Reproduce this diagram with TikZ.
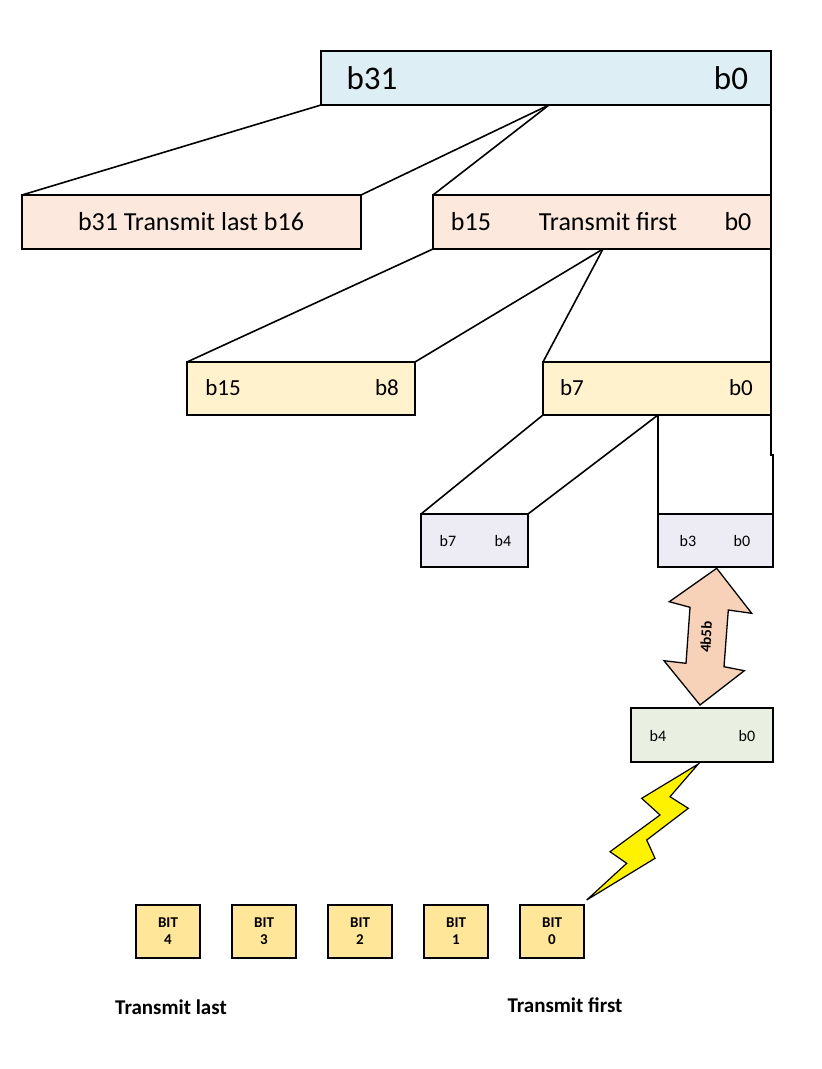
\documentclass[tikz,border=0pt]{standalone}
\usepackage{fontspec}
\setmainfont{Carlito}
\begin{document}
\begin{tikzpicture}[x=1pt,y=-1pt,line width=1.6pt,
 bx/.style={draw=black,line width=1.6pt},
 t/.style={inner sep=0pt,anchor=center}]
\useasboundingbox (0,0) rectangle (822,1069);
\definecolor{cTop}{HTML}{DDEEF4}
\definecolor{cPeach}{HTML}{FCE8DC}
\definecolor{cYel}{HTML}{FFF2CC}
\definecolor{cLav}{HTML}{EDEBF3}
\definecolor{cGrn}{HTML}{EAF0E1}
\definecolor{cBit}{HTML}{FFE699}
\definecolor{cArr}{HTML}{F8D2B8}
% boxes
\draw[bx,fill=cTop] (321,51) rectangle (771,105);
\node[t,font=\fontsize{33}{33}\selectfont] (t31) at (372,78) {b31};
\node[t,font=\fontsize{33}{33}\selectfont] (t0) at (731,78) {b0};
\draw[bx,fill=cPeach] (22,195) rectangle (361,249);
\node[t,font=\fontsize{26}{26}\selectfont] (a) at (191,222) {b31 Transmit last b16};
\draw[bx,fill=cPeach] (433,195) rectangle (771,249);
\node[t,font=\fontsize{26}{26}\selectfont] (b1) at (471,222) {b15};
\node[t,font=\fontsize{26}{26}\selectfont] (b2) at (608,222) {Transmit first};
\node[t,font=\fontsize{26}{26}\selectfont] (b3) at (738,222) {b0};
\draw[bx,fill=cYel] (187,362) rectangle (415,415);
\node[t,font=\fontsize{23}{23}\selectfont] (c1) at (223,388) {b15};
\node[t,font=\fontsize{23}{23}\selectfont] (c2) at (387,388) {b8};
\draw[bx,fill=cYel] (543,362) rectangle (771,415);
\node[t,font=\fontsize{23}{23}\selectfont] (d1) at (572,388) {b7};
\node[t,font=\fontsize{23}{23}\selectfont] (d2) at (741,388) {b0};
\draw[bx,fill=cLav] (421,514) rectangle (528,567);
\node[t,font=\fontsize{16}{16}\selectfont] (e1) at (448,541) {b7};
\node[t,font=\fontsize{16}{16}\selectfont] (e2) at (503,541) {b4};
\draw[bx,fill=cLav] (658,514) rectangle (773,567);
\node[t,font=\fontsize{16}{16}\selectfont] (f1) at (688,541) {b3};
\node[t,font=\fontsize{16}{16}\selectfont] (f2) at (742,541) {b0};
\draw[bx,fill=cGrn] (631,708) rectangle (773,762);
\node[t,font=\fontsize{16}{16}\selectfont] (g1) at (658,736) {b4};
\node[t,font=\fontsize{16}{16}\selectfont] (g2) at (747,736) {b0};
% connector lines
\draw (321,105) -- (22,195);
\draw (549,105) -- (361,195);
\draw (549,105) -- (433,195);
\draw (771,105) -- (771,195);
\draw (433,249) -- (187,362);
\draw (603,249) -- (415,362);
\draw (603,249) -- (543,362);
\draw (771,249) -- (771,362);
\draw (543,415) -- (421,514);
\draw (658,415) -- (528,514);
\draw (658,415) -- (658,514);
\draw (771,415) -- (771,455) -- (773,455) -- (773,514);
% double arrow
\draw[line width=1.3pt,fill=cArr] (716.7,568.3) -- (751.7,613.3) -- (728.3,610) -- (724,666.7) -- (744.3,670.7) -- (700,705) -- (664,660.7) -- (686,663.3) -- (690,607.3) -- (669.3,601.7) -- cycle;
\node[t,rotate=87,font=\bfseries\fontsize{15}{15}\selectfont] (ar) at (706,637) {4b5b};
% lightning
\draw[line width=1.2pt,fill=yellow] (698.3,764) -- (670,796.7) -- (688.3,808.3) -- (646.7,840) -- (655,858.3) -- (586.7,900) -- (626.7,863.3) -- (610,851.7) -- (660,815) -- (641.7,798.3) -- cycle;
% bits
\foreach \x/\n in {136/4,232/3,328/2,424/1,520/0}{
 \draw[line width=1.4pt,fill=cBit] (\x,905) rectangle ++(64,53);
 \node[t,align=center,font=\bfseries\fontsize{15}{17}\selectfont] (bit\n) at (\x+32,931.5) {BIT\\\n};
}
\node[t,font=\bfseries\fontsize{21}{21}\selectfont] (tl) at (171,1007) {Transmit last};
\node[t,font=\bfseries\fontsize{21}{21}\selectfont] (tf) at (565,1005) {Transmit first};
\end{tikzpicture}
\end{document}
